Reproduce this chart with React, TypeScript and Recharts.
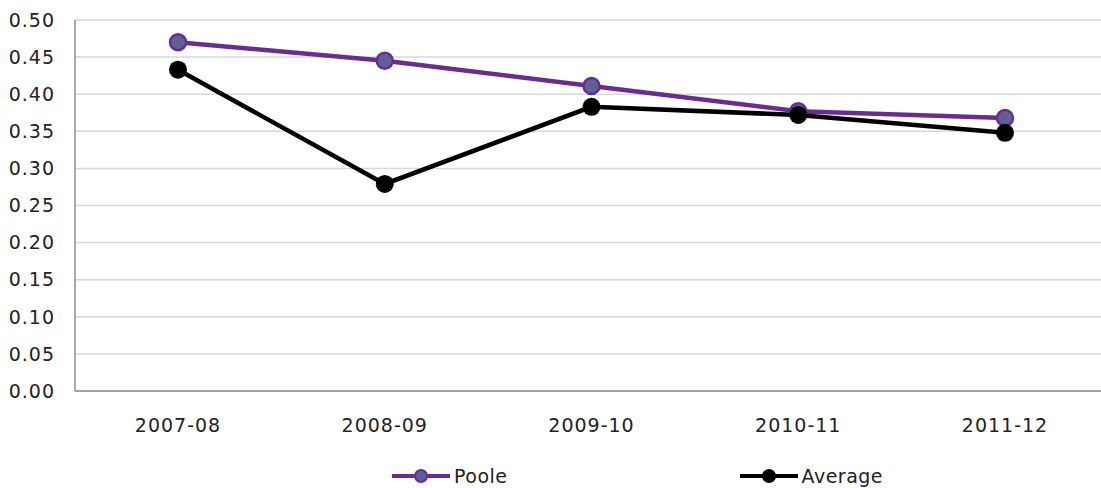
import React from "react";
import {
  LineChart,
  Line,
  XAxis,
  YAxis,
  CartesianGrid,
  Legend,
} from "recharts";

const CATEGORIES = ["2007-08", "2008-09", "2009-10", "2010-11", "2011-12"];
const POOLE = [0.47, 0.445, 0.411, 0.377, 0.368];
const AVERAGE = [0.433, 0.279, 0.383, 0.372, 0.348];
const Y_TICKS = [0, 0.05, 0.1, 0.15, 0.2, 0.25, 0.3, 0.35, 0.4, 0.45, 0.5];

const FONT = "'DejaVu Sans', Verdana, sans-serif";
const PURPLE = "#6a2c91";
const PURPLE_FILL = "#5f6196";

const SERIES = [
  { key: "poole", name: "Poole", stroke: PURPLE, fill: PURPLE_FILL, r: 8 },
  { key: "average", name: "Average", stroke: "#000000", fill: "#000000", r: 9 },
];

const data = CATEGORIES.map((c, i) => ({
  name: c,
  poole: POOLE[i],
  average: AVERAGE[i],
}));

const tickStyle = {
  fontSize: 19,
  fill: "#222",
  fontFamily: FONT,
  letterSpacing: 1,
};

function LegendContent() {
  return (
    <div
      style={{
        display: "flex",
        alignItems: "center",
        boxSizing: "border-box",
        height: 47,
        paddingTop: 22,
        paddingLeft: 392,
        gap: 232,
        fontFamily: FONT,
        fontSize: 19,
        color: "#222",
        letterSpacing: 0.5,
      }}
    >
      {SERIES.map((s) => (
        <div key={s.key} style={{ display: "flex", alignItems: "center" }}>
          <svg width={60} height={20}>
            <line x1={0} y1={10} x2={58} y2={10} stroke={s.stroke} strokeWidth={4} />
            <circle
              cx={29}
              cy={10}
              r={s.key === "poole" ? 6 : 7}
              fill={s.fill}
              stroke={s.stroke}
              strokeWidth={s.key === "poole" ? 2 : 0}
            />
          </svg>
          <span style={{ marginLeft: 2 }}>{s.name}</span>
        </div>
      ))}
    </div>
  );
}

export default function App() {
  return (
    <div
      style={{
        position: "absolute",
        left: 0,
        top: 0,
        width: 1101,
        height: 488,
        overflow: "hidden",
        background: "#fff",
      }}
    >
      <LineChart
        width={1108}
        height={488}
        data={data}
        margin={{ top: 20, right: 0, left: 0, bottom: 0 }}
      >
        <CartesianGrid vertical={false} stroke="#d9d9d9" strokeWidth={1.5} />
        <XAxis
          dataKey="name"
          height={50}
          padding={{ left: 103, right: 103 }}
          tickLine={false}
          tickSize={0}
          tickMargin={28}
          axisLine={{ stroke: "#8c8c8c", strokeWidth: 1.5 }}
          tick={tickStyle}
        />
        <YAxis
          width={75}
          domain={[0, 0.5]}
          ticks={Y_TICKS}
          tickFormatter={(v: number) => v.toFixed(2)}
          tickLine={false}
          tickSize={0}
          tickMargin={20}
          axisLine={{ stroke: "#8c8c8c", strokeWidth: 1.5 }}
          tick={tickStyle}
        />
        <Legend
          verticalAlign="bottom"
          align="left"
          height={47}
          content={() => <LegendContent />}
        />
        {SERIES.map((s) => (
          <Line
            key={s.key}
            type="linear"
            dataKey={s.key}
            name={s.name}
            stroke={s.stroke}
            strokeWidth={4.5}
            dot={{
              r: s.r,
              fill: s.fill,
              stroke: s.key === "poole" ? s.stroke : s.fill,
              strokeWidth: s.key === "poole" ? 2.5 : 0,
            }}
            activeDot={false}
            isAnimationActive={false}
          />
        ))}
      </LineChart>
    </div>
  );
}
